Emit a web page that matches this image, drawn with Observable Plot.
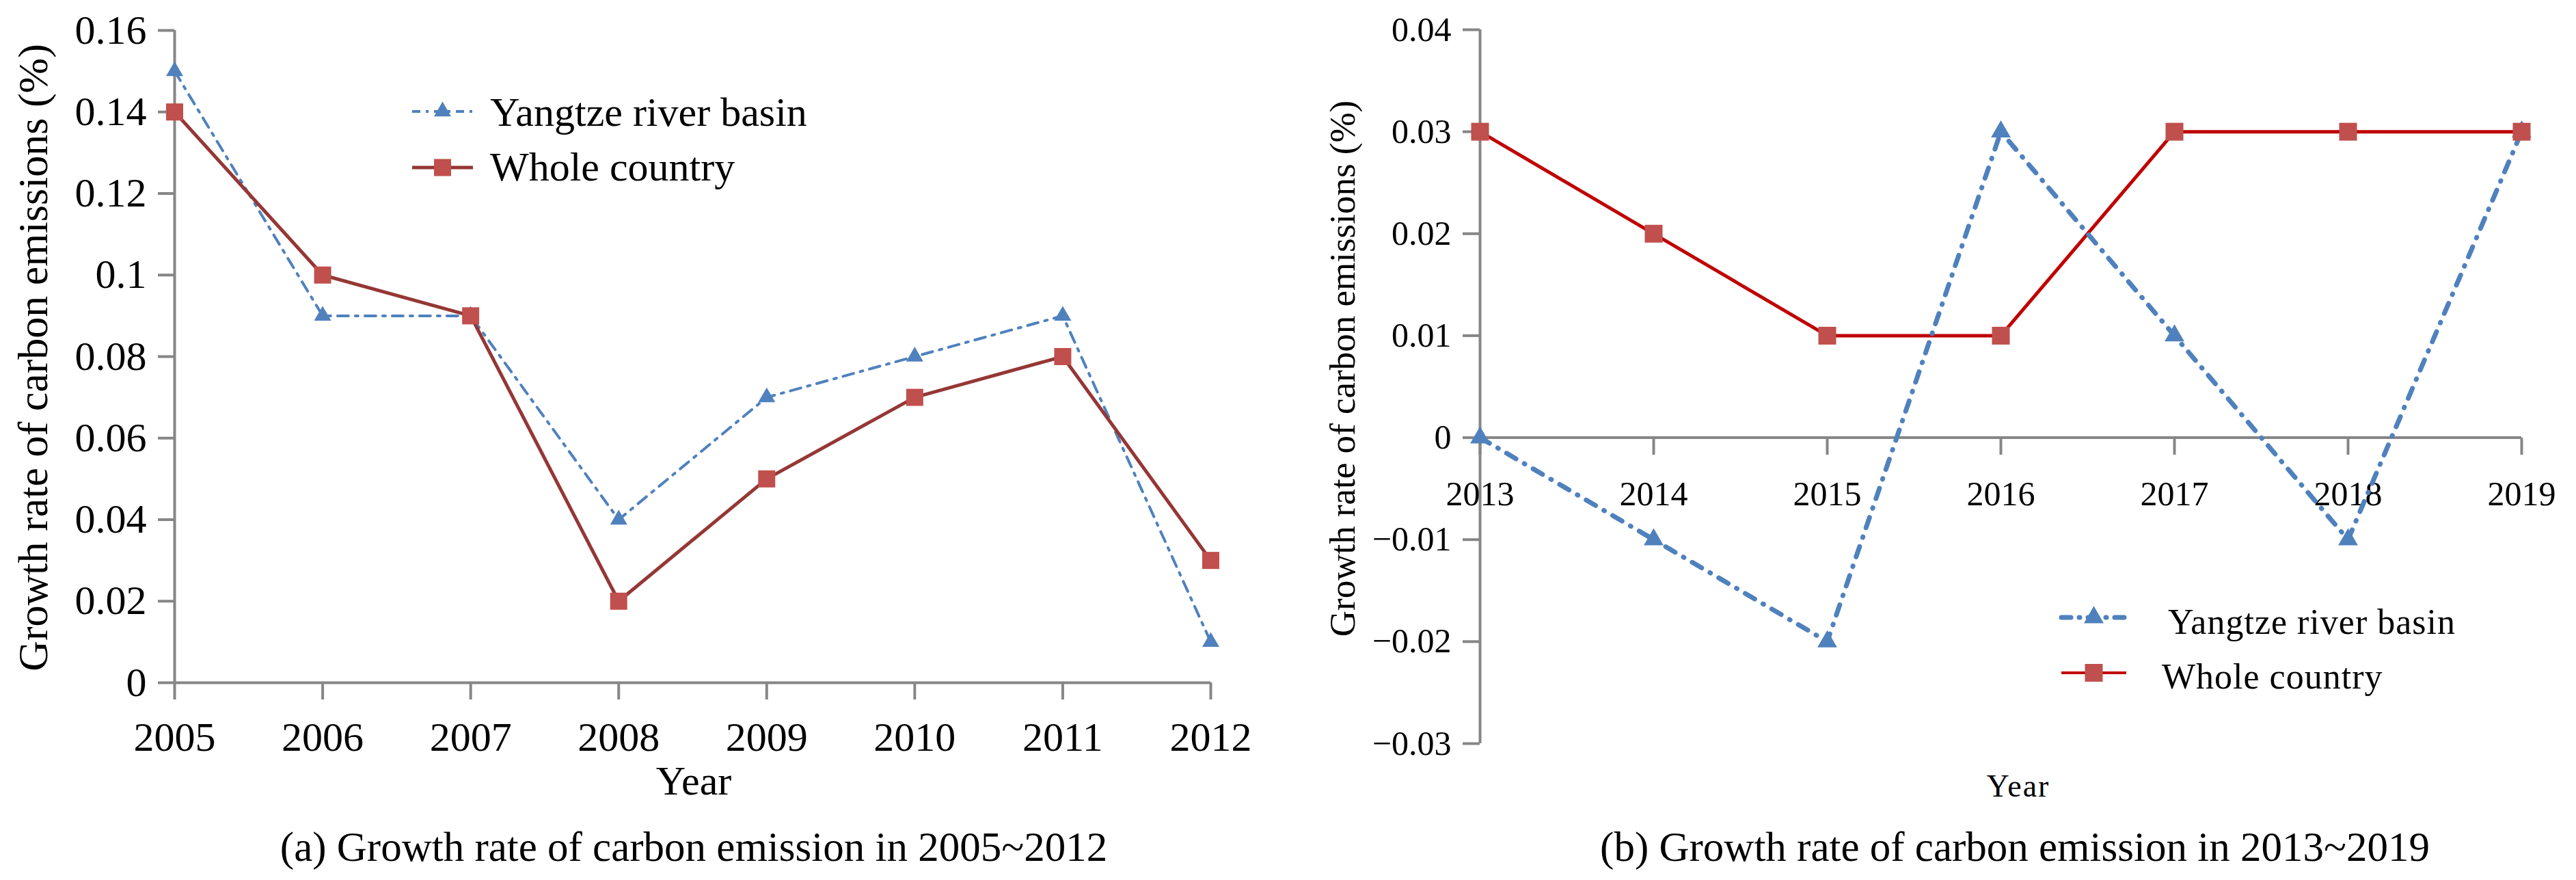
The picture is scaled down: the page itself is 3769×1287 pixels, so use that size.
<!DOCTYPE html>
<html><head><meta charset="utf-8">
<script src="https://cdn.jsdelivr.net/npm/d3@7"></script>
<script src="https://cdn.jsdelivr.net/npm/@observablehq/plot@0.6"></script>
<style>
body{margin:0;background:#fff;}
#root{position:relative;width:3769px;height:1287px;overflow:hidden;background:#fff;font-family:"Liberation Serif","Times New Roman",serif;color:#000;}
.abs{position:absolute;white-space:nowrap;line-height:1;transform:translate(-50%,-50%);}
.left{position:absolute;white-space:nowrap;line-height:1;transform:translate(0,-50%);}
.plot{position:absolute;top:0;}
</style></head><body><div id="root"></div>
<script>
// ---- data ----
const years1 = [2005, 2006, 2007, 2008, 2009, 2010, 2011, 2012];
const yangtze1 = [0.15, 0.09, 0.09, 0.04, 0.07, 0.08, 0.09, 0.01];
const whole1 = [0.14, 0.10, 0.09, 0.02, 0.05, 0.07, 0.08, 0.03];
const yTicks1 = [0, 0.02, 0.04, 0.06, 0.08, 0.10, 0.12, 0.14, 0.16];

const years2 = [2013, 2014, 2015, 2016, 2017, 2018, 2019];
const yangtze2 = [0, -0.01, -0.02, 0.03, 0.01, -0.01, 0.03];
const whole2 = [0.03, 0.02, 0.01, 0.01, 0.03, 0.03, 0.03];
const yTicks2 = [-0.03, -0.02, -0.01, 0, 0.01, 0.02, 0.03, 0.04];

const seriesNames = ["Yangtze river basin", "Whole country"];
const yLabel = "Growth rate of carbon emissions (%)";
const xLabel = "Year";
const captionA = "(a) Growth rate of carbon emission in 2005~2012";
const captionB = "(b) Growth rate of carbon emission in 2013~2019";

// ---- styles ----
const gray = "#868686";
const blue = "#4F81BD";
const sqRed = "#C0504D";
const darkRed = "#953735";
const brightRed = "#C00000";
const font = "'Liberation Serif','Times New Roman',serif";
const fmt = d => d === 0 ? "0" : d.toFixed(2).replace(/0+$/, "").replace("-", "\u2212");

const rows1 = years1.map((year, i) => ({year, yangtze: yangtze1[i], whole: whole1[i]}));
const rows2 = years2.map((year, i) => ({year, yangtze: yangtze2[i], whole: whole2[i]}));

const tickDown = {draw(ctx) { ctx.moveTo(0, 0); ctx.lineTo(0, 25); }};

const root = document.getElementById("root");

// ---- chart (a) ----
const p1 = Plot.plot({
  width: 1880, height: 1180,
  marginLeft: 255, marginRight: 109, marginTop: 44, marginBottom: 182,
  x: {domain: [2005, 2012]},
  y: {domain: [0, 0.16]},
  style: {fontFamily: font, fontSize: "60px", color: "black", background: "transparent", overflow: "visible"},
  marks: [
    Plot.axisY(yTicks1, {tickSize: 24, tickPadding: 17, stroke: gray, strokeWidth: 4, tickFormat: fmt, label: null}),
    Plot.axisX(years1, {tickSize: 25, tickPadding: 32, stroke: gray, strokeWidth: 4, tickFormat: d => String(d), label: null}),
    Plot.ruleX([2005], {stroke: gray, strokeWidth: 4}),
    Plot.ruleY([0], {stroke: gray, strokeWidth: 4}),
    Plot.line(rows1, {x: "year", y: "yangtze", stroke: blue, strokeWidth: 4, strokeDasharray: "16,10,4,10"}),
    Plot.line(rows1, {x: "year", y: "whole", stroke: darkRed, strokeWidth: 5}),
    Plot.dot(rows1, {x: "year", y: "yangtze", symbol: "triangle", r: 9.3, fill: blue, stroke: "none"}),
    Plot.dot(rows1, {x: "year", y: "whole", symbol: "square", r: 14.1, fill: sqRed, stroke: "none"})
  ]
});
p1.classList.add("plot");
p1.style.left = "0px";
root.appendChild(p1);

// ---- chart (b) ----
const p2 = Plot.plot({
  width: 1889, height: 1180,
  marginLeft: 285, marginRight: 80, marginTop: 43, marginBottom: 93,
  x: {domain: [2013, 2019], axis: null},
  y: {domain: [-0.03, 0.04]},
  style: {fontFamily: font, fontSize: "50px", color: "black", background: "transparent", overflow: "visible"},
  marks: [
    Plot.axisY(yTicks2, {tickSize: 25, tickPadding: 17, stroke: gray, strokeWidth: 4, tickFormat: fmt, label: null}),
    Plot.ruleX([2013], {stroke: gray, strokeWidth: 4}),
    Plot.ruleY([0], {stroke: gray, strokeWidth: 4}),
    Plot.dot(years2, {x: d => d, y: () => 0, symbol: tickDown, r: 5, fill: "none", stroke: gray, strokeWidth: 4}),
    Plot.text(years2, {x: d => d, y: () => 0, text: d => String(d), dy: 83, fontSize: 50, fill: "black"}),
    Plot.line(rows2, {x: "year", y: "whole", stroke: brightRed, strokeWidth: 5}),
    Plot.line(rows2, {x: "year", y: "yangtze", stroke: blue, strokeWidth: 7, strokeDasharray: "16,14,1,14", strokeLinecap: "round"}),
    Plot.dot(rows2, {x: "year", y: "yangtze", symbol: "triangle", r: 10.7, fill: blue, stroke: "none"}),
    Plot.dot(rows2, {x: "year", y: "whole", symbol: "square", r: 14.7, fill: sqRed, stroke: "none"})
  ]
});
p2.classList.add("plot");
p2.style.left = "1880px";
root.appendChild(p2);

// ---- text helpers ----
function addText(txt, cx, cy, size, extra = "") {
  const d = document.createElement("div");
  d.className = "abs";
  d.style.cssText = `left:${cx}px;top:${cy}px;font-size:${size}px;${extra}`;
  d.textContent = txt;
  root.appendChild(d);
}
function addLeftText(txt, x, cy, size, extra = "") {
  const d = document.createElement("div");
  d.className = "left";
  d.style.cssText = `left:${x}px;top:${cy}px;font-size:${size}px;${extra}`;
  d.textContent = txt;
  root.appendChild(d);
}
function addSwatch(x0, x1, cy, kind, color, lineW, dash, markColor, markSize, cap) {
  const w = x1 - x0, h = 40, mx = w / 2;
  const ns = "http://www.w3.org/2000/svg";
  const s = document.createElementNS(ns, "svg");
  s.setAttribute("width", w); s.setAttribute("height", h);
  s.style.cssText = `position:absolute;left:${x0}px;top:${cy - h / 2}px;overflow:visible`;
  const l = document.createElementNS(ns, "line");
  l.setAttribute("x1", 0); l.setAttribute("x2", w); l.setAttribute("y1", h / 2); l.setAttribute("y2", h / 2);
  l.setAttribute("stroke", color); l.setAttribute("stroke-width", lineW);
  if (dash) l.setAttribute("stroke-dasharray", dash);
  if (cap) l.setAttribute("stroke-linecap", cap);
  s.appendChild(l);
  let m;
  if (kind === "triangle") {
    m = document.createElementNS(ns, "polygon");
    const hw = markSize / 2, ht = markSize * 0.87;
    m.setAttribute("points", `${mx},${h / 2 - ht * 2 / 3} ${mx - hw},${h / 2 + ht / 3} ${mx + hw},${h / 2 + ht / 3}`);
  } else {
    m = document.createElementNS(ns, "rect");
    m.setAttribute("x", mx - markSize / 2); m.setAttribute("y", h / 2 - markSize / 2);
    m.setAttribute("width", markSize); m.setAttribute("height", markSize);
  }
  m.setAttribute("fill", markColor);
  s.appendChild(m);
  root.appendChild(s);
}

// chart (a) texts
addText(yLabel, 48, 523, 62, "transform:translate(-50%,-50%) rotate(-90deg);");
addText(xLabel, 1015, 1142, 60);
addText(captionA, 1015, 1238, 61);
addSwatch(603, 692, 163, "triangle", blue, 4, "12,8,4,8", blue, 25);
addSwatch(603, 692, 245, "square", darkRed, 5, null, sqRed, 25);
addLeftText(seriesNames[0], 717, 164, 60);
addLeftText(seriesNames[1], 717, 244, 60);

// chart (b) texts
addText(yLabel, 1964, 539, 53, "transform:translate(-50%,-50%) rotate(-90deg);");
addText(xLabel, 2953, 1150, 46, "letter-spacing:2px;");
addText(captionB, 2948, 1238, 61);
addSwatch(3016, 3111, 903, "triangle", blue, 7, "14,12,1,12", blue, 29, "round");
addSwatch(3016, 3111, 984, "square", brightRed, 4, null, sqRed, 26);
addLeftText(seriesNames[0], 3172, 910, 52, "letter-spacing:1px;");
addLeftText(seriesNames[1], 3163, 990, 52, "letter-spacing:1px;");
</script></body></html>
